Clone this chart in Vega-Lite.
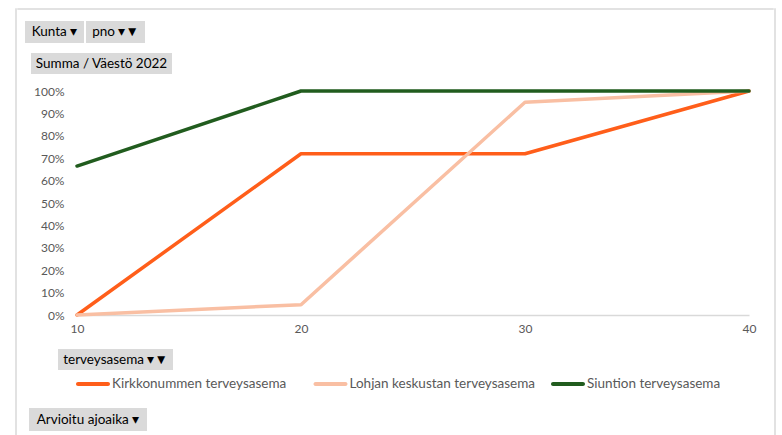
{
  "$schema": "https://vega.github.io/schema/vega-lite/v6.json",
  "background": "white",
  "padding": {"left": 15, "top": 8, "right": 0, "bottom": 0},
  "spacing": 0,
  "bounds": "full",
  "config": {
    "view": {"stroke": null},
    "font": "Lato",
    "axis": {"labelFont": "Lato", "labelFontSize": 12, "labelColor": "#595959", "ticks": false, "grid": false, "title": null}
  },
  "hconcat": [
    {"width": 0.01, "height": 440, "view": {"stroke": "#d9d9d9", "strokeWidth": 1.5}, "data": {"values": []}, "mark": {"type": "text", "text": ""}},
    {
      "spacing": 0,
      "bounds": "full",
      "vconcat": [
        {"width": 755, "height": 0.01, "view": {"stroke": "#d9d9d9", "strokeWidth": 1.5}, "data": {"values": []}, "mark": {"type": "text", "text": ""}},
        {"width": 10, "height": 10.5, "data": {"values": []}, "mark": {"type": "text", "text": ""}},
        {
          "hconcat": [
            {"width": 7, "height": 22, "data": {"values": []}, "mark": {"type": "text", "text": ""}},
            {"width": 59, "height": 22, "view": {"fill": "#dadada"}, "data": {"values": [{"label": "Kunta  ▾"}]}, "mark": {"type": "text", "fontSize": 13.5, "color": "#000000"}, "encoding": {"text": {"field": "label"}}},
            {"width": 2, "height": 22, "data": {"values": []}, "mark": {"type": "text", "text": ""}},
            {"width": 59, "height": 22, "view": {"fill": "#dadada"}, "data": {"values": [{"label": "pno  ▾▼"}]}, "mark": {"type": "text", "fontSize": 13.5, "color": "#000000"}, "encoding": {"text": {"field": "label"}}}
          ],
          "spacing": 0,
          "bounds": "flush"
        },
        {"width": 10, "height": 10, "data": {"values": []}, "mark": {"type": "text", "text": ""}},
        {
          "hconcat": [
            {"width": 13, "height": 21, "data": {"values": []}, "mark": {"type": "text", "text": ""}},
            {"width": 141, "height": 21, "view": {"fill": "#dadada"}, "data": {"values": [{"label": "Summa  / Väestö 2022"}]}, "mark": {"type": "text", "fontSize": 13.5, "color": "#000000"}, "encoding": {"text": {"field": "label"}}}
          ],
          "spacing": 0,
          "bounds": "flush"
        },
        {"width": 10, "height": 11, "data": {"values": []}, "mark": {"type": "text", "text": ""}},
        {
          "hconcat": [
            {"width": 59, "height": 224, "data": {"values": []}, "mark": {"type": "text", "text": ""}},
            {
              "width": 672,
              "height": 224,
              "data": {"values": [
                {"aika": 10, "asema": "Kirkkonummen terveysasema", "osuus": 0.0},
                {"aika": 20, "asema": "Kirkkonummen terveysasema", "osuus": 0.72},
                {"aika": 30, "asema": "Kirkkonummen terveysasema", "osuus": 0.72},
                {"aika": 40, "asema": "Kirkkonummen terveysasema", "osuus": 1.0},
                {"aika": 10, "asema": "Lohjan keskustan terveysasema", "osuus": 0.0},
                {"aika": 20, "asema": "Lohjan keskustan terveysasema", "osuus": 0.046},
                {"aika": 30, "asema": "Lohjan keskustan terveysasema", "osuus": 0.95},
                {"aika": 40, "asema": "Lohjan keskustan terveysasema", "osuus": 1.0},
                {"aika": 10, "asema": "Siuntion terveysasema", "osuus": 0.665},
                {"aika": 20, "asema": "Siuntion terveysasema", "osuus": 1.0},
                {"aika": 30, "asema": "Siuntion terveysasema", "osuus": 1.0},
                {"aika": 40, "asema": "Siuntion terveysasema", "osuus": 1.0}
              ]},
              "mark": {"type": "line", "strokeWidth": 3.5, "strokeCap": "round", "strokeJoin": "round"},
              "encoding": {
                "x": {"field": "aika", "type": "quantitative", "scale": {"domain": [10, 40], "nice": false, "zero": false},
                      "axis": {"values": [10, 20, 30, 40], "domain": true, "domainColor": "#d9d9d9", "domainWidth": 1.5, "labelPadding": 8, "labelFlush": false}},
                "y": {"field": "osuus", "type": "quantitative", "scale": {"domain": [0, 1], "nice": false},
                      "axis": {"values": [0, 0.1, 0.2, 0.3, 0.4, 0.5, 0.6, 0.7, 0.8, 0.9, 1], "format": ".0%", "domain": false, "labelPadding": 13}},
                "color": {"field": "asema", "type": "nominal",
                          "scale": {"domain": ["Kirkkonummen terveysasema", "Lohjan keskustan terveysasema", "Siuntion terveysasema"], "range": ["#FF5E1A", "#F9BFA3", "#215C1E"]},
                          "legend": null}
              }
            }
          ],
          "spacing": 0,
          "bounds": "flush"
        },
        {"width": 10, "height": 15, "data": {"values": []}, "mark": {"type": "text", "text": ""}},
        {
          "hconcat": [
            {"width": 40, "height": 21, "data": {"values": []}, "mark": {"type": "text", "text": ""}},
            {"width": 115, "height": 21, "view": {"fill": "#dadada"}, "data": {"values": [{"label": "terveysasema  ▾▼"}]}, "mark": {"type": "text", "fontSize": 13.5, "color": "#000000"}, "encoding": {"text": {"field": "label"}}}
          ],
          "spacing": 0,
          "bounds": "flush"
        },
        {"width": 10, "height": 6, "data": {"values": []}, "mark": {"type": "text", "text": ""}},
        {
          "hconcat": [
            {"width": 75, "height": 16, "data": {"values": []}, "mark": {"type": "text", "text": ""}},
            {
              "width": 475,
              "height": 16,
              "data": {"values": [
                {"asema": "Kirkkonummen terveysasema"},
                {"asema": "Lohjan keskustan terveysasema"},
                {"asema": "Siuntion terveysasema"}
              ]},
              "layer": [
                {
                  "mark": {"type": "tick", "orient": "horizontal", "size": 34, "thickness": 4, "cornerRadius": 2, "opacity": 1},
                  "encoding": {
                    "x": {"field": "asema", "type": "nominal", "scale": {"type": "point", "padding": 0}, "axis": null, "sort": null},
                    "color": {"field": "asema", "type": "nominal", "legend": null}
                  }
                },
                {
                  "mark": {"type": "text", "align": "left", "dx": 19, "fontSize": 13.5, "color": "#595959"},
                  "encoding": {
                    "x": {"field": "asema", "type": "nominal", "scale": {"type": "point", "padding": 0}, "axis": null, "sort": null},
                    "text": {"field": "asema"}
                  }
                }
              ]
            }
          ],
          "spacing": 0,
          "bounds": "flush"
        },
        {"width": 10, "height": 16, "data": {"values": []}, "mark": {"type": "text", "text": ""}},
        {
          "hconcat": [
            {"width": 11, "height": 23, "data": {"values": []}, "mark": {"type": "text", "text": ""}},
            {"width": 118, "height": 23, "view": {"fill": "#dadada"}, "data": {"values": [{"label": "Arvioitu ajoaika  ▾"}]}, "mark": {"type": "text", "fontSize": 13.5, "color": "#000000"}, "encoding": {"text": {"field": "label"}}}
          ],
          "spacing": 0,
          "bounds": "flush"
        }
      ]
    },
    {"width": 0.01, "height": 440, "view": {"stroke": "#d9d9d9", "strokeWidth": 1.5}, "data": {"values": []}, "mark": {"type": "text", "text": ""}}
  ]
}
